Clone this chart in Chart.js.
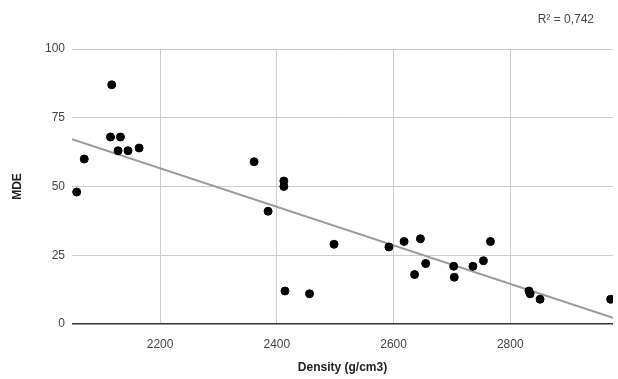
<!DOCTYPE html>
<html>
<head>
<meta charset="utf-8">
<script src="https://cdn.jsdelivr.net/npm/chart.js@4/dist/chart.umd.min.js"></script>
<style>
  html, body { margin: 0; padding: 0; background: #fff; }
  #wrap { width: 618px; height: 379px; }
</style>
</head>
<body>
<div id="wrap"><canvas id="graph"></canvas></div>
<script>
// densidad (g/cm3) y MDE
const densidad = [2057, 2070, 2117, 2115, 2132, 2128, 2145, 2164, 2361, 2385,
                  2412, 2412, 2414, 2456, 2498, 2592, 2618, 2646, 2636, 2655,
                  2703, 2704, 2736, 2754, 2766, 2832, 2834, 2851, 2972];
const mde = [48, 60, 87, 68, 68, 63, 63, 64, 59, 41,
             52, 50, 12, 11, 29, 28, 30, 31, 18, 22,
             21, 17, 21, 23, 30, 12, 11, 9, 9];
const xTicks = [2200, 2400, 2600, 2800];
const yTicks = [0, 25, 50, 75, 100];
const xMin = 2049, xMax = 2976;
const r2Label = 'R² = 0,742';

// linea de tendencia por minimos cuadrados
function tendencia(xs, ys) {
    const n = xs.length;
    let sx = 0, sy = 0, sxy = 0, sxx = 0;
    for (let i = 0; i < n; i++) {
        sx += xs[i]; sy += ys[i];
        sxy += xs[i] * ys[i]; sxx += xs[i] * xs[i];
    }
    const m = (n * sxy - sx * sy) / (n * sxx - sx * sx);
    const b = (sy - m * sx) / n;
    return [{x: xMin, y: m * xMin + b}, {x: xMax, y: m * xMax + b}];
}

const puntos = densidad.map((d, i) => ({x: d, y: mde[i]}));

const textoR2 = {
    id: 'textoR2',
    afterDraw(chart) {
        const c = chart.ctx;
        c.save();
        c.font = '12px "Liberation Sans", Arial, sans-serif';
        c.fillStyle = '#444';
        c.textAlign = 'right';
        c.textBaseline = 'middle';
        c.fillText(r2Label, 594, 20);
        c.restore();
    }
};

const fuente = {family: '"Liberation Sans", Arial, sans-serif', size: 12};

new Chart(document.getElementById('graph'), {
    type: 'scatter',
    data: {
        datasets: [
            {
                label: 'MDE',
                data: puntos,
                backgroundColor: '#000',
                borderColor: '#000',
                pointRadius: 4,
                pointHoverRadius: 4
            },
            {
                type: 'line',
                label: 'Tendencia',
                data: tendencia(densidad, mde),
                borderColor: '#9a9a9a',
                borderWidth: 2,
                pointRadius: 0,
                fill: false
            }
        ]
    },
    options: {
        responsive: true,
        maintainAspectRatio: false,
        animation: false,
        layout: {padding: {top: 49, right: 2, left: 0, bottom: 0}},
        plugins: {legend: {display: false}, tooltip: {enabled: false}},
        scales: {
            x: {
                type: 'linear',
                min: xMin,
                max: xMax,
                afterBuildTicks: (s) => { s.ticks = xTicks.map(v => ({value: v})); },
                afterFit: (s) => { s.height = 55; },
                border: {display: false},
                grid: {color: '#cccccc', drawTicks: false},
                ticks: {color: '#444', font: fuente, padding: 13, maxRotation: 0,
                        callback: (v) => String(v)},
                title: {display: true, text: 'Density (g/cm3)', color: '#222',
                        font: {family: fuente.family, size: 12, weight: 'bold'},
                        padding: {top: 0, bottom: 4}}
            },
            y: {
                min: 0,
                max: 100,
                afterBuildTicks: (s) => { s.ticks = yTicks.map(v => ({value: v})); },
                afterFit: (s) => { s.width = 72; },
                border: {display: false},
                grid: {
                    color: (ctx) => ctx.tick && ctx.tick.value === 0 ? '#333' : '#cccccc',
                    lineWidth: (ctx) => ctx.tick && ctx.tick.value === 0 ? 1.5 : 1,
                    drawTicks: false
                },
                ticks: {color: '#444', font: fuente, padding: 7},
                title: {display: true, text: 'MDE', color: '#222',
                        font: {family: fuente.family, size: 12, weight: 'bold'},
                        padding: {top: 10, bottom: 0}}
            }
        }
    },
    plugins: [textoR2]
});
</script>
</body>
</html>
